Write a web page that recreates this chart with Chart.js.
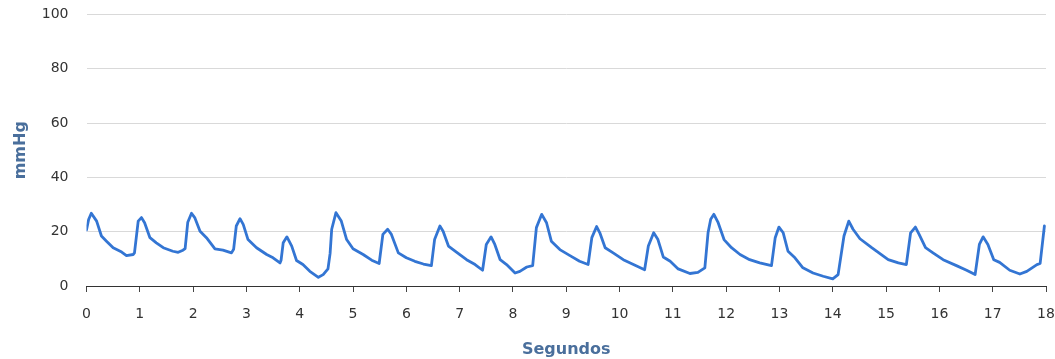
<!DOCTYPE html>
<html>
<head>
<meta charset="utf-8">
<script src="https://cdn.jsdelivr.net/npm/chart.js@4/dist/chart.umd.min.js"></script>
<style>
  html, body { margin: 0; padding: 0; background: #fff; }
  #wrap { width: 1055px; height: 359px; position: relative; }
</style>
</head>
<body>
<div id="wrap"><canvas id="c" width="1055" height="359"></canvas></div>
<script>
// Pressure trace: time in seconds and pressure in mmHg
const seconds = [
  0, 0.04, 0.09, 0.19, 0.28, 0.375, 0.5, 0.66, 0.75, 0.875, 0.9,
  0.97, 1.03, 1.09, 1.19, 1.31, 1.44, 1.62, 1.72, 1.81, 1.85,
  1.9, 1.97, 2.03, 2.13, 2.25, 2.41, 2.56, 2.72, 2.76,
  2.81, 2.88, 2.94, 3.03, 3.19, 3.38, 3.5, 3.63, 3.65,
  3.69, 3.76, 3.85, 3.94, 4.06, 4.19, 4.35, 4.44, 4.53, 4.57,
  4.6, 4.68, 4.78, 4.88, 5.0, 5.19, 5.35, 5.49,
  5.56, 5.65, 5.72, 5.85, 6.0, 6.16, 6.32, 6.47,
  6.53, 6.63, 6.69, 6.79, 6.94, 7.13, 7.29, 7.43,
  7.5, 7.59, 7.66, 7.76, 7.88, 8.04, 8.13, 8.26, 8.37,
  8.44, 8.54, 8.63, 8.72, 8.88, 9.07, 9.25, 9.41,
  9.48, 9.57, 9.63, 9.73, 9.88, 10.07, 10.26, 10.47,
  10.54, 10.64, 10.72, 10.82, 10.95, 11.1, 11.32, 11.47, 11.6,
  11.66, 11.71, 11.77, 11.85, 11.96, 12.1, 12.26, 12.44, 12.63, 12.85,
  12.92, 12.99, 13.07, 13.16, 13.29, 13.44, 13.63, 13.82, 14.0, 14.1,
  14.21, 14.3, 14.38, 14.51, 14.73, 15.04, 15.23, 15.38,
  15.46, 15.55, 15.62, 15.74, 15.88, 16.07, 16.32, 16.51, 16.67,
  16.75, 16.82, 16.91, 17.02, 17.13, 17.32, 17.51, 17.64, 17.83, 17.89,
  17.97
];
const mmHg = [
  20.6, 24.5, 26.8, 23.9, 18.4, 16.5, 14.1, 12.5, 11.2, 11.6, 12.2,
  23.9, 25.2, 23.3, 17.8, 15.9, 14.1, 12.8, 12.4, 13.2, 13.8,
  23.5, 26.8, 25.2, 20.2, 17.8, 13.7, 13.2, 12.2, 13.5,
  22.1, 24.8, 22.7, 17.1, 14.1, 11.6, 10.4, 8.5, 9.5,
  15.9, 18.1, 14.7, 9.4, 7.9, 5.4, 3.2, 4.2, 6.3, 12.0,
  20.9, 27.0, 23.9, 17.1, 13.7, 11.6, 9.5, 8.3,
  19.0, 20.9, 19.0, 12.2, 10.4, 9.1, 8.1, 7.5,
  17.1, 22.1, 20.2, 14.7, 12.5, 9.7, 7.9, 5.8,
  15.3, 18.1, 15.3, 9.7, 7.9, 4.8, 5.4, 7.0, 7.5,
  21.5, 26.4, 23.3, 16.5, 13.4, 11.2, 9.1, 7.9,
  17.8, 21.9, 19.6, 14.1, 12.2, 9.7, 7.9, 6.0,
  14.7, 19.6, 17.1, 10.7, 9.1, 6.3, 4.6, 5.0, 6.7,
  19.6, 24.6, 26.4, 23.3, 17.1, 14.1, 11.6, 9.7, 8.5, 7.5,
  17.8, 21.7, 19.6, 12.8, 10.4, 6.7, 4.8, 3.6, 2.6, 4.2,
  18.4, 23.9, 20.9, 17.4, 14.1, 9.7, 8.5, 7.9,
  19.6, 21.7, 19.0, 14.1, 12.2, 9.7, 7.5, 5.8, 4.2,
  15.3, 18.1, 15.3, 9.7, 8.7, 5.8, 4.4, 5.4, 7.9, 8.3,
  22.1
];
const xTitle = 'Segundos';
const yTitle = 'mmHg';

const points = seconds.map((s, i) => ({ x: s, y: mmHg[i] }));

// Fixed axis box sizes; tick labels may overhang the plot without shrinking it
function fixBox(size, prop) {
  return (s) => {
    s[prop] = size;
    s.paddingTop = 0; s.paddingBottom = 0;
    s.paddingLeft = 0; s.paddingRight = 0;
  };
}

new Chart(document.getElementById('c'), {
  type: 'line',
  data: {
    datasets: [{
      data: points,
      borderColor: '#3375d3',
      borderWidth: 2.8,
      pointRadius: 0,
      tension: 0,
      borderJoinStyle: 'round',
      borderCapStyle: 'round',
      fill: false
    }]
  },
  options: {
    responsive: false,
    animation: false,
    devicePixelRatio: 1,
    layout: { padding: { left: 0, right: 9, top: 14.5, bottom: 0 } },
    plugins: { legend: { display: false }, tooltip: { enabled: false } },
    scales: {
      x: {
        type: 'linear',
        min: 0,
        max: 18,
        afterFit: fixBox(73, 'height'),
        ticks: {
          stepSize: 1,
          padding: 14,
          color: '#333',
          font: { family: 'DejaVu Sans', size: 14 }
        },
        grid: {
          drawOnChartArea: false,
          drawTicks: true,
          tickLength: 6,
          color: '#444'
        },
        border: { display: true, color: '#333', width: 1 },
        title: {
          display: true,
          text: xTitle,
          color: '#4a6f9c',
          font: { family: 'DejaVu Sans', size: 16, weight: 'bold' },
          padding: { top: 0, bottom: 0 }
        }
      },
      y: {
        min: 0,
        max: 100,
        afterFit: fixBox(86.5, 'width'),
        ticks: {
          stepSize: 20,
          padding: 18,
          color: '#333',
          font: { family: 'DejaVu Sans', size: 14 }
        },
        grid: {
          color: '#d9d9d9',
          lineWidth: 1,
          drawTicks: false
        },
        border: { display: false },
        title: {
          display: true,
          text: yTitle,
          color: '#4a6f9c',
          font: { family: 'DejaVu Sans', size: 16, weight: 'bold' },
          padding: { top: 11, bottom: 0 }
        }
      }
    }
  }
});
</script>
</body>
</html>
